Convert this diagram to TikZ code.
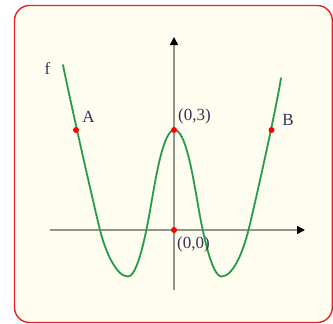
\documentclass[tikz,border=0pt]{standalone}
\usepackage{fontspec}
\setmainfont{Liberation Serif}
\usetikzlibrary{arrows.meta}
\definecolor{frame}{HTML}{E8202A}
\definecolor{paper}{HTML}{FFFDF0}
\definecolor{axisgray}{HTML}{94948E}
\definecolor{curvegreen}{HTML}{3BAA5C}
\definecolor{curvedark}{HTML}{137A35}
\definecolor{labelcol}{HTML}{34345A}
\tikzset{
  axisline/.style={draw=axisgray, line width=1.6pt, -{Triangle[length=8pt,width=8pt,fill=black,color=black]}},
  dot/.style={circle, fill=red, inner sep=0pt, minimum size=6pt},
  lbl/.style={text=labelcol, font=\fontsize{17}{19}\selectfont, inner sep=0pt},
  fpath/.style={line cap=round},
}
\begin{document}
\begin{tikzpicture}[x=1pt,y=-1pt]
\useasboundingbox (0,0) rectangle (333,324);
\draw[frame, fill=paper, line width=1.4pt, rounded corners=15pt] (14.5,5.5) rectangle (332.3,322.5);
% axes
\coordinate (xs) at (50,230);
\coordinate (xe) at (305,230);
\coordinate (ys) at (174,290);
\coordinate (ye) at (174,37);
\draw[axisline] (xs) -- (xe);
\draw[axisline] (ys) -- (ye);
% curve
\def\fcurve{(63,65) .. controls (70,100) and (94,206) .. (100,230)
  .. controls (106,254) and (117,276.5) .. (128,276.5)
  .. controls (138,276.5) and (146.75,230) .. (151,205)
  .. controls (157,170) and (164,130) .. (174.5,130)
  .. controls (185,130) and (192,170) .. (198,205)
  .. controls (202.25,230) and (211.5,276.5) .. (221.5,276.5)
  .. controls (232.5,276.5) and (242.5,254) .. (248.5,230)
  .. controls (254.5,206) and (276,110) .. (281,78)}
\draw[fpath, curvegreen, line width=1.9pt] \fcurve;
\draw[curvedark, line width=0.7pt, dash pattern=on 1.5pt off 1.5pt] \fcurve;
% points
\node[dot] (A) at (76,130) {};
\node[dot] (B) at (271.5,130) {};
\node[dot] (P03) at (174,130) {};
\node[dot] (P00) at (174,230) {};
% labels
\node[lbl] (fl) at (47.5,68.5) {f};
\node[lbl] (Al) at (88.5,117) {A};
\node[lbl] (Bl) at (288,119.5) {B};
\node[lbl] (l03) at (194.5,116.5) {(0,3)};
\node[lbl] (l00) at (193.5,244.5) {(0,0)};
\end{tikzpicture}
\end{document}
